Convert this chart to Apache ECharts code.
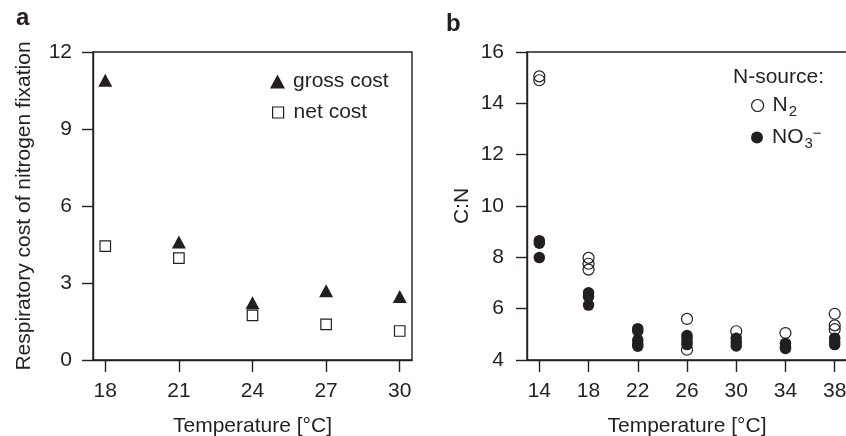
<!DOCTYPE html>
<html><head><meta charset="utf-8">
<script src="https://cdn.jsdelivr.net/npm/echarts@6/dist/echarts.min.js"></script>
<style>html,body{margin:0;padding:0;background:#fff}#c{width:846px;height:436px}</style>
</head><body><div id="c"></div>
<script>
// Panel a
const tempsA = [18, 21, 24, 27, 30];
const grossCost = [10.9, 4.6, 2.23, 2.7, 2.47];
const netCost = [4.44, 3.97, 1.74, 1.39, 1.13];
const ticksA = [18, 21, 24, 27, 30];
// Panel b
const tempsB = [14, 18, 22, 26, 30, 34, 38];
const cnN2 = [[15.05, 14.9], [7.98, 7.75, 7.52], [], [5.6, 4.4], [5.12], [5.05], [5.8, 5.35, 5.2]];
const cnNO3 = [[8.65, 8.55, 7.99], [6.62, 6.47, 6.14], [5.22, 5.12, 4.78, 4.62, 4.54], [4.95, 4.85, 4.7, 4.6], [4.85, 4.7, 4.55], [4.65, 4.5, 4.45], [4.85, 4.7, 4.6]];
const ticksB = [14, 18, 22, 26, 30, 34, 38];

const INK = '#231f20';
const FONT = 'Liberation Sans, Arial, Helvetica, sans-serif';

function pairs(xs, ys) { return xs.map((x, i) => [x, ys[i]]); }
function flatPairs(xs, groups) {
  const out = [];
  xs.forEach((x, i) => groups[i].forEach(v => out.push([x, v])));
  return out;
}

const lineStyle = { color: INK, width: 1.4 };
function xAxis(gi, min, max, ticks, name) {
  return {
    type: 'value', gridIndex: gi, min, max,
    name, nameLocation: 'middle', nameGap: 56,
    nameTextStyle: { color: INK, fontSize: 21, fontFamily: FONT },
    axisLine: { show: true, lineStyle },
    axisTick: { show: true, inside: false, length: 12, lineStyle, customValues: ticks },
    axisLabel: { color: INK, fontSize: 21, fontFamily: FONT, margin: 21, customValues: ticks },
    splitLine: { show: false }
  };
}
function yAxis(gi, min, max, interval, name, gap, lblMargin) {
  return {
    type: 'value', gridIndex: gi, min, max, interval,
    name, nameLocation: 'middle', nameGap: gap,
    nameTextStyle: { color: INK, fontSize: 21, fontFamily: FONT },
    axisLine: { show: true, lineStyle },
    axisTick: { show: true, inside: false, length: 11, lineStyle },
    axisLabel: { color: INK, fontSize: 21, fontFamily: FONT, margin: lblMargin },
    splitLine: { show: false }
  };
}

const chart = echarts.init(document.getElementById('c'), null, { renderer: 'canvas' });
chart.setOption({
  animation: false,
  backgroundColor: '#fff',
  textStyle: { fontFamily: FONT, color: INK },
  title: [
    { text: 'a', left: 16, top: 6, padding: 0, textStyle: { fontSize: 24, fontWeight: 'bold', color: INK, fontFamily: FONT } },
    { text: 'b', left: 446, top: 12, padding: 0, textStyle: { fontSize: 24, fontWeight: 'bold', color: INK, fontFamily: FONT } },
    { text: 'N-source:', left: 733, top: 67, padding: 0, textStyle: { fontSize: 21, fontWeight: 'normal', color: INK, fontFamily: FONT } }
  ],
  grid: [
    { left: 93, top: 52, width: 319, height: 308, outerBoundsMode: 'none', containLabel: false, show: true, borderColor: INK, borderWidth: 1.4, backgroundColor: 'transparent' },
    { left: 527, top: 52, width: 320, height: 308, outerBoundsMode: 'none', containLabel: false, show: true, borderColor: INK, borderWidth: 1.4, backgroundColor: 'transparent' }
  ],
  xAxis: [
    xAxis(0, 17.5, 30.5, ticksA, 'Temperature [°C]'),
    xAxis(1, 13, 39, ticksB, 'Temperature [°C]')
  ],
  yAxis: [
    yAxis(0, 0, 12, 3, 'Respiratory cost of nitrogen fixation', 58, 21),
    yAxis(1, 4, 16, 2, 'C:N', 54, 23)
  ],
  legend: [
    { data: ['gross cost'], left: 270, top: 71, padding: 0, itemWidth: 15, itemHeight: 14,
      textStyle: { fontSize: 21, color: INK, fontFamily: FONT, padding: [0, 0, 0, 3] } },
    { data: ['net cost'], left: 272, top: 102, padding: 0, itemWidth: 11, itemHeight: 11,
      itemStyle: { borderWidth: 1.2, borderColor: INK, color: '#fff' },
      textStyle: { fontSize: 21, color: INK, fontFamily: FONT, padding: [0, 0, 0, 5] } },
    { data: ['N2'], left: 751, top: 95, padding: 0, itemWidth: 12, itemHeight: 12,
      itemStyle: { borderWidth: 1.2, borderColor: INK, color: '#fff' },
      formatter: () => '{n|N}{sub|2}',
      textStyle: { fontSize: 21, color: INK, fontFamily: FONT, padding: [0, 0, 0, 4],
        rich: { n: { fontSize: 21, color: INK, fontFamily: FONT }, sub: { fontSize: 15, color: INK, fontFamily: FONT, padding: [12, 0, 0, 1] } } } },
    { data: ['NO3'], left: 751, top: 126, padding: 0, itemWidth: 12, itemHeight: 12,
      formatter: () => '{n|NO}{sub|3}{sup|\u2212}',
      textStyle: { fontSize: 21, color: INK, fontFamily: FONT, padding: [0, 0, 0, 4],
        rich: { n: { fontSize: 21, color: INK, fontFamily: FONT }, sub: { fontSize: 15, color: INK, fontFamily: FONT, padding: [12, 0, 0, 1] }, sup: { fontSize: 15, color: INK, fontFamily: FONT, padding: [0, 0, 8, 0] } } } }
  ],
  series: [
    { name: 'gross cost', type: 'scatter', xAxisIndex: 0, yAxisIndex: 0, symbol: 'triangle', symbolSize: [14, 13],
      itemStyle: { color: INK, opacity: 1 }, data: pairs(tempsA, grossCost) },
    { name: 'net cost', type: 'scatter', xAxisIndex: 0, yAxisIndex: 0, symbol: 'rect', symbolSize: 10.5,
      itemStyle: { color: '#fff', borderColor: INK, borderWidth: 1.2, opacity: 1 }, data: pairs(tempsA, netCost) },
    { name: 'N2', type: 'scatter', xAxisIndex: 1, yAxisIndex: 1, symbol: 'circle', symbolSize: 11,
      itemStyle: { color: 'rgba(255,255,255,0)', borderColor: INK, borderWidth: 1.2, opacity: 1 }, data: flatPairs(tempsB, cnN2) },
    { name: 'NO3', type: 'scatter', xAxisIndex: 1, yAxisIndex: 1, symbol: 'circle', symbolSize: 11.5,
      itemStyle: { color: INK, opacity: 1 }, data: flatPairs(tempsB, cnNO3) }
  ]
});
</script></body></html>
